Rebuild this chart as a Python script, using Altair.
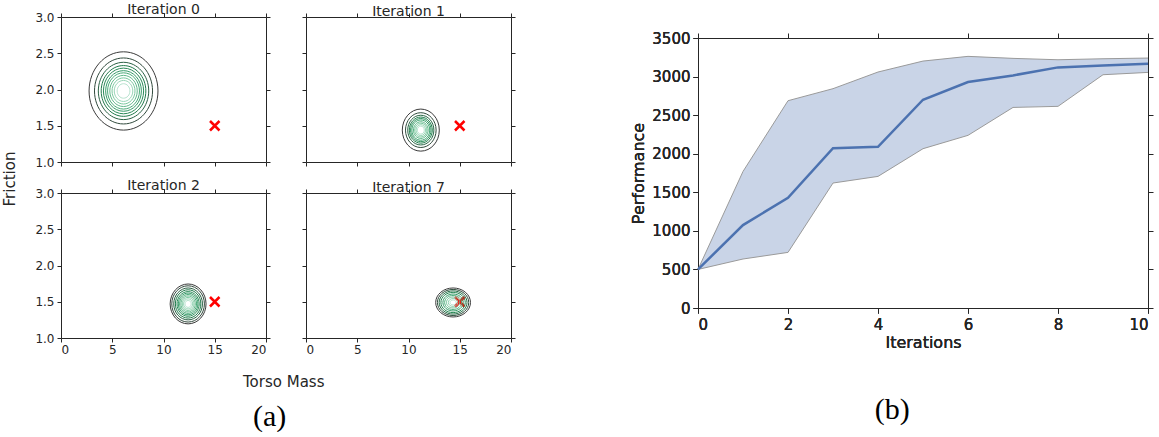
import altair as alt
import pandas as pd

# ---------------- data: panel (a) ----------------
panel_titles = ["Iteration 0", "Iteration 1", "Iteration 2", "Iteration 7"]
center_mass = [6.1, 11.2, 12.4, 14.35]
center_friction = [1.98, 1.44, 1.47, 1.49]
# half-height of each density contour (friction units), outer -> inner
contour_half_height = [
    [0.54, 0.455, 0.395, 0.35, 0.315, 0.28, 0.25, 0.215, 0.18, 0.145, 0.10],
    [0.29, 0.24, 0.205, 0.18, 0.16, 0.14, 0.115, 0.095, 0.075, 0.055],
    [0.275, 0.25, 0.22, 0.195, 0.17, 0.15, 0.13, 0.11, 0.09, 0.07, 0.048],
    [0.2, 0.18, 0.16, 0.14, 0.117, 0.097, 0.076, 0.055, 0.035],
]
# width/height ratio of contours in each panel
contour_aspect = [0.88, 0.88, 0.9, 1.2]
target_mass = [15]
target_friction = [1.5]

# ---------------- data: panel (b) ----------------
iterations = [0, 1, 2, 3, 4, 5, 6, 7, 8, 9, 10]
perf_mean = [500, 1075, 1428, 2072, 2090, 2700, 2929, 3015, 3119, 3145, 3167]
perf_upper = [500, 1770, 2687, 2843, 3059, 3201, 3262, 3236, 3218, 3231, 3240]
perf_lower = [500, 635, 721, 1620, 1706, 2065, 2238, 2600, 2614, 3024, 3054]

FONT = "DejaVu Sans"
INK = "#262626"
PW, PH = 205, 145
px_per_friction = PH / 2.0

contour_colors = ["#3a3a3a", "#2f4d3d", "#1f7a4a", "#3aa26e", "#7cc9a0", "#b8e3cf"]
contour_stops = [0.0, 0.12, 0.3, 0.55, 0.8, 1.0]


def panel(i, show_x, show_y):
    levels = contour_half_height[i]
    n = len(levels)
    rows = []
    for k, hh in enumerate(levels):
        rows.append({
            "mass": center_mass[i],
            "friction": center_friction[i],
            "size": (2 * hh * px_per_friction) ** 2,
            "t": k / (n - 1),
            "order": k,
        })
    cdf = pd.DataFrame(rows)
    tdf = pd.DataFrame({"mass": target_mass, "friction": target_friction})

    xs = alt.Scale(domain=[0, 20], nice=False, zero=False)
    ys = alt.Scale(domain=[1, 3], nice=False, zero=False)
    common = dict(grid=False, domain=False, tickSize=4, tickColor=INK, title=None)
    x_bottom = alt.Axis(orient="bottom", values=[0, 5, 10, 15, 20], labels=show_x,
                        labelFontSize=12, labelPadding=2, labelFontWeight="normal", **common)
    y_left = alt.Axis(orient="left", values=[1.0, 1.5, 2.0, 2.5, 3.0], format=".1f",
                      labels=show_y, labelFontSize=12, labelPadding=3, labelFontWeight="normal", **common)
    x_top = alt.Axis(orient="top", values=[0, 5, 10, 15, 20], labels=False, **common)
    y_right = alt.Axis(orient="right", values=[1.0, 1.5, 2.0, 2.5, 3.0], labels=False, **common)

    a = contour_aspect[i]
    ellipse = f"M {-a} 0 A {a} 1 0 1 0 {a} 0 A {a} 1 0 1 0 {-a} 0 Z"

    cross = alt.Chart(tdf).mark_point(
        shape="M -1 -1 L 1 1 M 1 -1 L -1 1", size=90, filled=False,
        stroke="#ff0000", strokeWidth=2.5, opacity=1,
    ).encode(
        x=alt.X("mass:Q", scale=xs, axis=x_top),
        y=alt.Y("friction:Q", scale=ys, axis=y_right),
    )
    contours = alt.Chart(cdf).mark_point(
        shape=ellipse, filled=False, strokeWidth=1, opacity=1,
    ).encode(
        x=alt.X("mass:Q", scale=xs, axis=x_bottom),
        y=alt.Y("friction:Q", scale=ys, axis=y_left),
        size=alt.Size("size:Q", scale=None),
        color=alt.Color("t:Q", scale=alt.Scale(domain=contour_stops, range=contour_colors), legend=None),
        order="order:Q",
    )
    return alt.layer(cross, contours).resolve_axis(x="independent", y="independent").properties(
        width=PW, height=PH,
        title=alt.TitleParams(panel_titles[i], fontSize=14, font=FONT, color=INK,
                              fontWeight="normal", anchor="middle", frame="group", offset=-6),
    )


row1 = alt.hconcat(panel(0, False, True), panel(1, False, False), spacing=30)
row2 = alt.hconcat(panel(2, True, True), panel(3, True, False), spacing=30)
grid = alt.vconcat(row1, row2, spacing=9,
                   title=alt.TitleParams("Friction", orient="left", anchor="middle", fontSize=15,
                                         font=FONT, color=INK, fontWeight="normal", offset=16))
left_a = alt.vconcat(grid, title=alt.TitleParams("Torso Mass", orient="bottom", anchor="middle",
                                                 fontSize=15, font=FONT, color=INK,
                                                 fontWeight="normal", offset=19, dx=24))
left_b = alt.vconcat(left_a, title=alt.TitleParams("(a)", orient="bottom", anchor="middle",
                                                   fontSize=30, font="Liberation Serif", color="#000000",
                                                   fontWeight="normal", offset=12, dx=10))

# ---------------- panel (b) ----------------
pdf = pd.DataFrame({"it": iterations, "mean": perf_mean, "upper": perf_upper, "lower": perf_lower})
bx = alt.Scale(domain=[0, 10], nice=False, zero=False)
by = alt.Scale(domain=[0, 3500], nice=False)
bcommon = dict(grid=False, domain=False, tickSize=5, tickColor=INK,
               labelFontWeight="normal", titleFontWeight="normal")
bx_bottom = alt.Axis(orient="bottom", values=[0, 2, 4, 6, 8, 10], format="d", labelFontSize=15,
                     labelPadding=4, title="Iterations", titleFontSize=16, titlePadding=2, **bcommon)
by_left = alt.Axis(orient="left", values=list(range(0, 3501, 500)), format="d", labelFontSize=15,
                   labelPadding=3, title="Performance", titleFontSize=16, titlePadding=5, **bcommon)
bx_top = alt.Axis(orient="top", values=[0, 2, 4, 6, 8, 10], labels=False, title=None, **bcommon)
by_right = alt.Axis(orient="right", values=list(range(0, 3501, 500)), labels=False, title=None, **bcommon)

band = alt.Chart(pdf).mark_area(color="#4c72b0", opacity=0.3).encode(
    x=alt.X("it:Q", scale=bx, axis=bx_bottom),
    y=alt.Y("lower:Q", scale=by, axis=by_left),
    y2="upper:Q",
)
upper_edge = alt.Chart(pdf).mark_line(color="#9a9a9a", strokeWidth=1).encode(
    x=alt.X("it:Q", scale=bx, axis=bx_bottom), y=alt.Y("upper:Q", scale=by, axis=by_left))
lower_edge = alt.Chart(pdf).mark_line(color="#9a9a9a", strokeWidth=1).encode(
    x=alt.X("it:Q", scale=bx, axis=bx_bottom), y=alt.Y("lower:Q", scale=by, axis=by_left))
mean_line = alt.Chart(pdf).mark_line(color="#4c72b0", strokeWidth=2.5).encode(
    x=alt.X("it:Q", scale=bx, axis=bx_top), y=alt.Y("mean:Q", scale=by, axis=by_right))

right = alt.layer(band, upper_edge, lower_edge, mean_line).resolve_axis(
    x="independent", y="independent").properties(width=450, height=270)

spacer = alt.Chart(pd.DataFrame({"v": [0]})).mark_point(opacity=0).encode(
    x=alt.value(0), y=alt.value(0)
).properties(width=450, height=1, view=alt.ViewBackground(stroke="transparent"))

right_b = alt.vconcat(spacer, right, spacing=9,
                      title=alt.TitleParams("(b)", orient="bottom", anchor="middle",
                                            fontSize=30, font="Liberation Serif", color="#000000",
                                            fontWeight="normal", offset=44, dx=0))

chart = alt.hconcat(left_b, right_b, spacing=114).properties(
    padding={"left": 3, "top": 2, "right": 0, "bottom": 0}
).configure_view(stroke=INK, strokeWidth=1).configure_axis(
    labelColor=INK, titleColor=INK, labelFont=FONT, titleFont=FONT, titleFontWeight="normal"
).configure_title(font=FONT, fontWeight="normal")

chart.save("out.html", embed_options={"renderer": "svg", "actions": False})
